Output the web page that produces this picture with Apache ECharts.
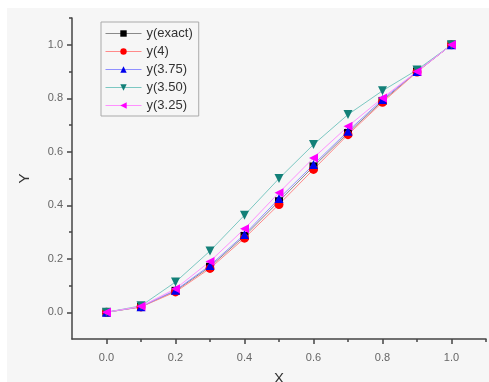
<!DOCTYPE html>
<html>
<head>
<meta charset="utf-8">
<script src="https://cdn.jsdelivr.net/npm/echarts@6/dist/echarts.min.js"></script>
<style>
  html, body { margin: 0; padding: 0; background: #fff; }
  #chart { width: 489px; height: 382px; }
</style>
</head>
<body>
<div id="chart"></div>
<script>
// data
var xValues = [0, 0.1, 0.2, 0.3, 0.4, 0.5, 0.6, 0.7, 0.8, 0.9, 1.0];
var yExact = [0, 0.02, 0.08, 0.17, 0.285, 0.415, 0.545, 0.67, 0.79, 0.9, 1.0];
var y4 = [0, 0.02, 0.076, 0.164, 0.277, 0.403, 0.534, 0.664, 0.785, 0.898, 1.0];
var y375 = [0, 0.021, 0.082, 0.175, 0.291, 0.425, 0.552, 0.677, 0.795, 0.9, 1.0];
var y350 = [0, 0.024, 0.113, 0.229, 0.363, 0.5, 0.627, 0.739, 0.828, 0.906, 1.0];
var y325 = [0, 0.022, 0.088, 0.19, 0.312, 0.447, 0.577, 0.695, 0.801, 0.9, 1.0];
var seriesNames = ['y(exact)', 'y(4)', 'y(3.75)', 'y(3.50)', 'y(3.25)'];

// ticks
var majorTicks = [0, 0.2, 0.4, 0.6, 0.8, 1.0];
var minorTicks = [0.1, 0.3, 0.5, 0.7, 0.9, 1.1];

var chart = echarts.init(document.getElementById('chart'));

function pairs(ys) {
  return xValues.map(function (x, i) { return [x, ys[i]]; });
}

var font = 'Liberation Sans, Arial, sans-serif';
var axisColor = '#444';

function mkAxis(name, extra, labelMargin) {
  var major = {
    type: 'value',
    min: -0.1,
    max: 1.1,
    name: name,
    nameLocation: 'middle',
    nameTextStyle: { fontFamily: font, fontSize: 15, color: '#333' },
    axisLine: { show: true, onZero: false, lineStyle: { color: axisColor, width: 1.5 } },
    axisTick: { show: true, customValues: majorTicks, length: 5, lineStyle: { color: axisColor, width: 1.5 } },
    axisLabel: { show: true, customValues: majorTicks, fontFamily: font, fontSize: 11, color: '#666', margin: labelMargin,
      formatter: function (v) { return v.toFixed(1); } },
    splitLine: { show: false }
  };
  var minor = {
    type: 'value',
    min: -0.1,
    max: 1.1,
    axisLine: { show: false, onZero: false },
    axisTick: { show: true, customValues: minorTicks, length: 3, lineStyle: { color: axisColor, width: 1.5 } },
    axisLabel: { show: false },
    splitLine: { show: false }
  };
  Object.assign(major, extra);
  return [major, minor];
}

var xAxes = mkAxis('X', { nameGap: 32 }, 13);
xAxes[1].position = 'bottom';
var yAxes = mkAxis('Y', { nameGap: 40 }, 9);
yAxes[1].position = 'left';

var styles = [
  { color: '#000000', line: '#8a8a8a', symbol: 'rect', size: 8, rot: 0 },
  { color: '#ff0000', line: '#ff8a8a', symbol: 'circle', size: 9, rot: 0 },
  { color: '#0000ee', line: '#9090ff', symbol: 'triangle', size: 9, rot: 0 },
  { color: '#138078', line: '#7cc8c2', symbol: 'triangle', size: 9, rot: 180 },
  { color: '#ff00ff', line: '#ff90ff', symbol: 'triangle', size: 9, rot: 90 }
];
var allY = [yExact, y4, y375, y350, y325];

var series = allY.map(function (ys, i) {
  var s = styles[i];
  return {
    name: seriesNames[i],
    type: 'line',
    data: pairs(ys),
    symbol: s.symbol,
    symbolSize: s.size,
    symbolRotate: s.rot,
    showAllSymbol: true,
    itemStyle: { color: s.color },
    lineStyle: { color: s.line, width: 1 },
    animation: false
  };
});

var option = {
  backgroundColor: '#ffffff',
  graphic: [{
    type: 'rect', z: -10, silent: true,
    shape: { x: 7, y: 8, width: 482, height: 374 },
    style: { fill: '#f6f6f6' }
  }],
  grid: { left: 72, right: 3, top: 18, bottom: 43, containLabel: false, outerBoundsMode: 'none' },
  legend: {
    orient: 'vertical',
    left: 101,
    top: 22,
    padding: [5, 6, 4, 4],
    itemGap: 5,
    itemWidth: 36,
    itemHeight: 8,
    borderColor: '#aaa',
    borderWidth: 1,
    lineStyle: { width: 1 },
    textStyle: { fontFamily: font, fontSize: 13, color: '#333' },
    data: seriesNames
  },
  xAxis: xAxes,
  yAxis: yAxes,
  series: series
};

chart.setOption(option);
</script>
</body>
</html>
